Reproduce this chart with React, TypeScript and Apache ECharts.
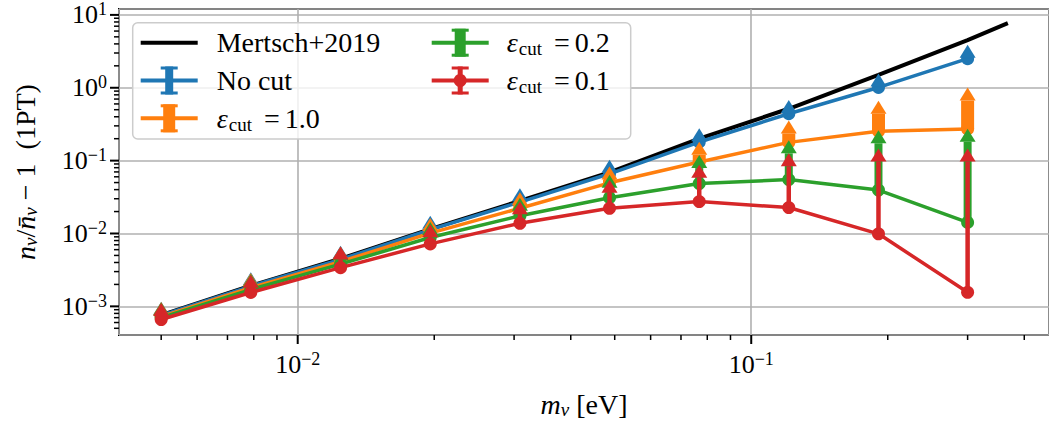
import React, { useEffect, useRef } from 'react';
import * as echarts from 'echarts';

// ---- data ----
const massEV = [0.005, 0.00788, 0.01243, 0.0196, 0.0309, 0.0487, 0.0768, 0.121, 0.1908, 0.3];

const mertschMass = [0.005, 0.00788, 0.01243, 0.0196, 0.0309, 0.0487, 0.0768, 0.121, 0.1908, 0.3, 0.368];
const mertschValues = [7.6e-4, 1.92e-3, 4.5e-3, 0.0115, 0.028, 0.069, 0.2, 0.515, 1.5, 4.5, 7.7];

const noCutValues = [7.5e-4, 1.9e-3, 4.4e-3, 0.0113, 0.027, 0.066, 0.18, 0.44, 1.01, 2.51];
const noCutUpper = [7.7e-4, 1.95e-3, 4.5e-3, 0.0116, 0.0278, 0.068, 0.185, 0.45, 1.04, 2.58];

const cut10Values = [7.2e-4, 1.8e-3, 4.1e-3, 0.0101, 0.0222, 0.0496, 0.096, 0.178, 0.253, 0.272];
const cut10Upper = [7.6e-4, 1.9e-3, 4.4e-3, 0.0108, 0.0245, 0.055, 0.12, 0.236, 0.44, 0.668];

const cut02Values = [7.0e-4, 1.7e-3, 3.8e-3, 0.0088, 0.0175, 0.031, 0.0485, 0.055, 0.0394, 0.0142];
const cut02Upper = [7.5e-4, 1.85e-3, 4.3e-3, 0.0095, 0.0205, 0.0424, 0.079, 0.126, 0.173, 0.182];

const cut01Values = [6.6e-4, 1.55e-3, 3.4e-3, 0.0072, 0.0138, 0.0222, 0.0274, 0.0227, 0.0099, 0.00156];
const cut01Upper = [7.4e-4, 1.8e-3, 4.4e-3, 0.0089, 0.0184, 0.0363, 0.058, 0.0834, 0.0975, 0.0975];

const xMajorTicks = [0.01, 0.1];
const xMinorTicks = [0.005, 0.006, 0.007, 0.008, 0.009, 0.02, 0.03, 0.04, 0.05, 0.06, 0.07, 0.08, 0.09, 0.2, 0.3, 0.4];
const yMajorTicks = [1e-3, 1e-2, 1e-1, 1, 10];
const yMinorTicks = [
  5e-4, 6e-4, 7e-4, 8e-4, 9e-4,
  2e-3, 3e-3, 4e-3, 5e-3, 6e-3, 7e-3, 8e-3, 9e-3,
  0.02, 0.03, 0.04, 0.05, 0.06, 0.07, 0.08, 0.09,
  0.2, 0.3, 0.4, 0.5, 0.6, 0.7, 0.8, 0.9,
  2, 3, 4, 5, 6, 7, 8, 9,
];

const X_MIN = 0.004036;
const X_MAX = 0.4535;
const Y_MIN = 4.045e-4;
const Y_MAX = 12.05;

const BLUE = '#1f77b4';
const ORANGE = '#ff7f0e';
const GREEN = '#2ca02c';
const RED = '#d62728';

const FONT = '"Liberation Serif", "Times New Roman", serif';

const NAME_MERTSCH = 'Mertsch+2019';
const NAME_NOCUT = 'No cut';
const NAME_C10 = 'εcut = 1.0';
const NAME_C02 = 'εcut = 0.2';
const NAME_C01 = 'εcut = 0.1';

// legend entries: name, colour, kind, error-bar width, column, row
const legendNames = [NAME_MERTSCH, NAME_NOCUT, NAME_C10, NAME_C02, NAME_C01];
const legendColors = ['#000000', BLUE, ORANGE, GREEN, RED];
const legendBarWidths = [0, 8, 12, 11, 5];
const legendCols = [0, 0, 0, 1, 1];
const legendRows = [0, 1, 2, 0, 1];

const legendRich = {
  r: { fontFamily: FONT, fontSize: 28, lineHeight: 28, fill: '#000' },
  e: { fontFamily: FONT, fontSize: 28, fontStyle: 'italic', lineHeight: 28, fill: '#000' },
  s: { fontFamily: FONT, fontSize: 19, lineHeight: 28, padding: [12, 0, 0, 1], fill: '#000' },
  q: { fontFamily: FONT, fontSize: 28, lineHeight: 28, padding: [0, 5, 0, 12], fill: '#000' },
};

const legendText = (name: string) => {
  if (name.startsWith('εcut')) {
    return `{e|ε}{s|cut}{q|=}{r|${name.slice(7)}}`;
  }
  return `{r|${name}}`;
};

const tickLabelFormatter = (v: number) => {
  const e = Math.log10(v);
  const r = Math.round(e);
  if (Math.abs(e - r) > 1e-6) return '';
  const exp = r < 0 ? '−' + -r : String(r);
  return `{b|10}{p|${exp}}`;
};

const tickRich = {
  b: { fontFamily: FONT, fontSize: 26, lineHeight: 30, color: '#000' },
  p: { fontFamily: FONT, fontSize: 18, lineHeight: 30, padding: [0, 0, 11, 0], color: '#000' },
};

const nameRich = {
  i: { fontFamily: FONT, fontSize: 28, fontStyle: 'italic', lineHeight: 30, color: '#000' },
  s: { fontFamily: FONT, fontSize: 19, fontStyle: 'italic', lineHeight: 30, padding: [11, 0, 0, 0], color: '#000' },
  r: { fontFamily: FONT, fontSize: 28, lineHeight: 30, color: '#000' },
};

function lineSeries(name: string, values: number[], color: string, z: number) {
  return {
    type: 'line',
    name,
    data: massEV.map((m, i) => [m, values[i]]),
    symbol: 'circle',
    symbolSize: 13,
    showAllSymbol: true,
    lineStyle: { color, width: 3.5 },
    itemStyle: { color, borderWidth: 0 },
    emphasis: { disabled: true },
    silent: true,
    z,
  };
}

function errorSeries(name: string, values: number[], upper: number[], color: string, width: number, z: number) {
  return {
    type: 'custom',
    name,
    coordinateSystem: 'cartesian2d',
    silent: true,
    z,
    data: massEV.map((m, i) => [m, values[i], upper[i]]),
    renderItem: (params: any, api: any) => {
      const p0 = api.coord([api.value(0), api.value(1)]);
      const p1 = api.coord([api.value(0), api.value(2)]);
      return {
        type: 'group',
        children: [
          {
            type: 'line',
            shape: { x1: p0[0], y1: p0[1], x2: p1[0], y2: p1[1] },
            style: { stroke: color, lineWidth: width },
          },
          {
            type: 'polygon',
            shape: {
              points: [
                [p1[0] - 8, p1[1]],
                [p1[0] + 8, p1[1]],
                [p1[0], p1[1] - 13],
              ],
            },
            style: { fill: color },
          },
        ],
      };
    },
  };
}

function xTickSeries(ticks: number[], len: number, width: number) {
  return {
    type: 'custom',
    name: 'xticks',
    coordinateSystem: 'cartesian2d',
    silent: true,
    clip: false,
    z: 40,
    data: ticks.map((t) => [t, 1]),
    renderItem: (params: any, api: any) => {
      const x = api.coord([api.value(0), 1])[0];
      const cs = params.coordSys;
      const y0 = cs.y + cs.height;
      return {
        type: 'line',
        shape: { x1: x, y1: y0, x2: x, y2: y0 + len },
        style: { stroke: '#000', lineWidth: width },
      };
    },
  };
}

function yTickSeries(ticks: number[], len: number, width: number) {
  return {
    type: 'custom',
    name: 'yticks',
    coordinateSystem: 'cartesian2d',
    silent: true,
    clip: false,
    z: 40,
    data: ticks.map((t) => [0.01, t]),
    renderItem: (params: any, api: any) => {
      const y = api.coord([0.01, api.value(1)])[1];
      const cs = params.coordSys;
      const x0 = cs.x;
      return {
        type: 'line',
        shape: { x1: x0, y1: y, x2: x0 - len, y2: y },
        style: { stroke: '#000', lineWidth: width },
      };
    },
  };
}

// legend drawn as graphic elements
const LEG_X = 132.7;
const LEG_Y = 22.7;
const LEG_W = 498;
const LEG_H = 116.3;
const LEG_COL_X = [140.7, 431.7];
const LEG_TEXT_X = [216.7, 506.7];
const LEG_ROW_Y = [42.7, 80.5, 118.3];

function buildLegend() {
  const els: any[] = [
    {
      type: 'rect',
      z: 100,
      silent: true,
      shape: { x: LEG_X, y: LEG_Y, width: LEG_W, height: LEG_H, r: 5 },
      style: { fill: 'rgba(255,255,255,0.8)', stroke: '#cccccc', lineWidth: 1.5 },
    },
  ];
  legendNames.forEach((name, i) => {
    const x0 = LEG_COL_X[legendCols[i]];
    const cy = LEG_ROW_Y[legendRows[i]];
    const cx = x0 + 28.5;
    const color = legendColors[i];
    els.push({
      type: 'line',
      z: 101,
      silent: true,
      shape: { x1: x0, y1: cy, x2: x0 + 57, y2: cy },
      style: { stroke: color, lineWidth: 4 },
    });
    const bw = legendBarWidths[i];
    if (bw > 0) {
      els.push({
        type: 'rect',
        z: 101,
        silent: true,
        shape: { x: cx - bw / 2, y: cy - 14, width: bw, height: 28 },
        style: { fill: color },
      });
      els.push({
        type: 'rect',
        z: 101,
        silent: true,
        shape: { x: cx - 8.5, y: cy - 14, width: 17, height: 3 },
        style: { fill: color },
      });
      els.push({
        type: 'rect',
        z: 101,
        silent: true,
        shape: { x: cx - 8.5, y: cy + 11, width: 17, height: 3 },
        style: { fill: color },
      });
      if (color === RED) {
        els.push({
          type: 'circle',
          z: 101,
          silent: true,
          shape: { cx, cy, r: 6.5 },
          style: { fill: color },
        });
      }
    }
    els.push({
      type: 'text',
      z: 101,
      silent: true,
      x: LEG_TEXT_X[legendCols[i]],
      y: cy,
      style: {
        text: legendText(name),
        rich: legendRich,
        fontFamily: FONT,
        fontSize: 28,
        fill: '#000',
        align: 'left',
        verticalAlign: 'middle',
      },
    });
  });
  return els;
}

export default function App() {
  const ref = useRef<HTMLDivElement>(null);

  useEffect(() => {
    if (!ref.current) return;
    const chart = echarts.init(ref.current, undefined, { renderer: 'svg' });
    const option: any = {
      animation: false,
      backgroundColor: '#ffffff',
      textStyle: { fontFamily: FONT, color: '#000' },
      grid: {
        left: 119,
        top: 9,
        width: 937,
        height: 330,
        show: true,
        borderColor: '#000',
        borderWidth: 2,
        backgroundColor: 'transparent',
        containLabel: false,
      },
      xAxis: {
        type: 'log',
        logBase: 10,
        min: X_MIN,
        max: X_MAX,
        axisLine: { show: false },
        axisTick: { show: false },
        minorTick: { show: false },
        splitLine: { show: true, lineStyle: { color: '#b0b0b0', width: 1.6 } },
        axisLabel: {
          formatter: tickLabelFormatter,
          rich: tickRich,
          fontFamily: FONT,
          fontSize: 26,
          color: '#000',
          margin: 14,
          showMinLabel: false,
          showMaxLabel: false,
        },
        name: '{i|m}{s|ν}{r| [eV]}',
        nameLocation: 'middle',
        nameGap: 54,
        nameTextStyle: { rich: nameRich, fontFamily: FONT, fontSize: 28, color: '#000', lineHeight: 30 },
      },
      yAxis: {
        type: 'log',
        logBase: 10,
        min: Y_MIN,
        max: Y_MAX,
        axisLine: { show: false },
        axisTick: { show: false },
        minorTick: { show: false },
        splitLine: { show: true, lineStyle: { color: '#b0b0b0', width: 1.6 } },
        axisLabel: {
          formatter: tickLabelFormatter,
          rich: tickRich,
          fontFamily: FONT,
          fontSize: 26,
          color: '#000',
          margin: 12,
          showMinLabel: false,
          showMaxLabel: false,
        },
        name: '{i|n}{s|ν}{r|/}{i|n̄}{s|ν}{r| − 1  (1PT)}',
        nameLocation: 'middle',
        nameGap: 79,
        nameRotate: 90,
        nameTextStyle: { rich: nameRich, fontFamily: FONT, fontSize: 28, color: '#000', lineHeight: 30 },
      },
      graphic: { elements: buildLegend() },
      series: [
        {
          type: 'line',
          name: NAME_MERTSCH,
          data: mertschMass.map((m, i) => [m, mertschValues[i]]),
          symbol: 'none',
          lineStyle: { color: '#000', width: 4 },
          itemStyle: { color: '#000' },
          emphasis: { disabled: true },
          silent: true,
          z: 2,
        },
        lineSeries(NAME_NOCUT, noCutValues, BLUE, 3),
        errorSeries('No cut err', noCutValues, noCutUpper, BLUE, 8, 4),
        lineSeries(NAME_C10, cut10Values, ORANGE, 5),
        errorSeries('cut 1.0 err', cut10Values, cut10Upper, ORANGE, 13, 6),
        lineSeries(NAME_C02, cut02Values, GREEN, 7),
        errorSeries('cut 0.2 err', cut02Values, cut02Upper, GREEN, 8, 8),
        lineSeries(NAME_C01, cut01Values, RED, 9),
        errorSeries('cut 0.1 err', cut01Values, cut01Upper, RED, 4.5, 10),
        xTickSeries(xMajorTicks, 9, 2),
        xTickSeries(xMinorTicks, 5, 1.5),
        yTickSeries(yMajorTicks, 9, 2),
        yTickSeries(yMinorTicks, 5, 1.5),
      ],
    };
    chart.setOption(option);
    return () => chart.dispose();
  }, []);

  return (
    <div
      ref={ref}
      style={{ position: 'absolute', left: 0, top: 0, width: 1049, height: 424 }}
    />
  );
}
